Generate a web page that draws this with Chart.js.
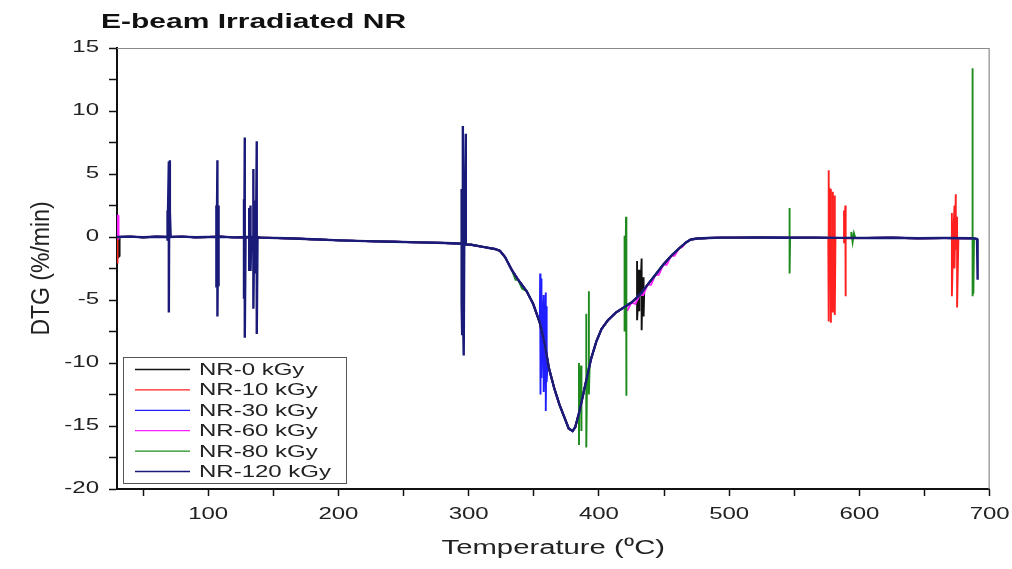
<!DOCTYPE html>
<html><head><meta charset="utf-8">
<script src="https://cdn.jsdelivr.net/npm/chart.js@4.4.0/dist/chart.umd.min.js"></script>
<style>html,body{margin:0;padding:0;background:#fff;}#wrap{width:1012px;height:569px;position:relative;}</style>
</head><body><div id="wrap"><canvas id="c"></canvas></div>
<script>
const chartTitle = 'E-beam Irradiated NR';
const xAxisTitle = 'Temperature (\u2070C)';
const yAxisTitle = 'DTG (%/min)';
const seriesLabels = ['NR-0 kGy','NR-10 kGy','NR-30 kGy','NR-60 kGy','NR-80 kGy','NR-120 kGy'];
const seriesColors = ['#111111','#ff2020','#1f1fff','#ff20ff','#1e8a1e','#1a1a78'];
const xTickValues = [50,100,150,200,250,300,350,400,450,500,550,600,650,700];
const xTickLabels = ['','100','','200','','300','','400','','500','','600','','700'];
const yTickValues = [-20,-17.5,-15,-12.5,-10,-7.5,-5,-2.5,0,2.5,5,7.5,10,12.5,15];
const yTickLabels = ['-20','','-15','','-10','','-5','','0','','5','','10','','15'];

// common DTG trace (temperature, %/min)
const baseTemp = [30,40,50,60,70,80,90,100,110,120,140,160,180,201,221,242,262,282,292,302,312,320,324,328,333,338,344.5,349.5,354.6,358.6,361.6,365.7,369.7,373.8,376.8,379.8,381.8,384.9,387.9,390.9,393.9,398,402,407,413,419,425,431.3,437.3,443.4,449.4,455.5,461.6,466.6,470.6,475.7,483.8,494,504,524,544,564,585,605,625,645,665,686,690];
const baseDTG = [0,0.03,-0.02,0.02,0,0.03,-0.02,0,0.02,-0.03,-0.05,-0.1,-0.18,-0.27,-0.33,-0.38,-0.43,-0.48,-0.52,-0.62,-0.8,-0.95,-1.1,-1.6,-2.6,-3.4,-4.3,-5.3,-6.8,-8.6,-10.4,-12.0,-13.3,-14.4,-15.2,-15.4,-15.1,-13.9,-12.5,-11.1,-9.7,-8.3,-7.3,-6.6,-6.0,-5.6,-5.2,-4.6,-3.8,-3.0,-2.2,-1.5,-0.9,-0.45,-0.2,-0.12,-0.08,-0.05,-0.05,-0.04,-0.06,-0.05,-0.07,-0.08,-0.06,-0.1,-0.08,-0.1,-0.15];

// per-series deviations and spikes [temperature, DTG]
const spikes0 = [[31,-0.1],[31,-1.6],[32,-1.5],[32,0],
  [429.3,-4.8],[429.3,-1.9],[429.3,-6.6],[430.3,-4.7],[430.8,-2.6],[430.8,-5.9],[431.8,-4.5],[432.8,-1.7],[432.8,-7.4],[433.3,-4.4],[434.3,-3.2],[434.3,-6.3],[434.8,-4.2]];
const spikes10 = [[30.2,0],[30.2,-2.1],[30.6,-1.9],[30.6,0],
  [576.1,-0.07],[576.1,4.0],[576.6,5.3],[576.6,-6.7],[577.1,3.9],[577.1,-0.1],[578.1,-0.1],[578.1,3.8],[578.1,-6.8],[578.6,-0.1],[579.6,-0.1],[579.6,3.6],[579.6,-6.0],[580.1,-0.1],[581.1,-0.1],[581.1,3.3],[581.1,-6.2],[581.6,-0.1],
  [588.2,-0.07],[588.2,2.1],[588.2,-0.5],[589.2,2.5],[589.2,-4.7],[589.7,-0.1],
  [671,-0.08],[671,1.9],[671,-4.7],[672,-0.1],[673,2.5],[673,-2.5],[674,3.4],[674,-1.0],[675,1.6],[675,-5.6],[676,-0.1]];
const spikes30 = [[354.6,-6.8],[354.9,-2.9],[354.9,-12.5],[355.4,-6.9],[355.9,-3.3],[355.9,-11.2],[356.6,-7.6],[357.6,-4.6],[357.6,-12.3],[358.4,-8.3],[359.2,-4.4],[359.2,-13.8],[359.9,-5.5],[359.9,-11.5],[360.6,-9.8]];
const spikes60 = [[30.4,0],[30.4,1.7],[30.9,1.7],[30.9,-0.2],[31.3,1.2],[31.3,0],
  [422,-5.8],[428,-5.3],[434,-4.6],[440,-3.8],[446,-3.0],[452,-2.2],[458,-1.5],[464,-0.8]];
const spikes80 = [[336,-3.4],[341,-4.1],
  [384.7,-14.0],[384.7,-10.0],[384.7,-16.5],[385.3,-13.9],[386.3,-10.2],[386.3,-15.4],[386.9,-13.1],
  [390.3,-11.4],[390.3,-6.1],[390.3,-16.7],[390.9,-11.2],[392.3,-10.3],[392.3,-4.3],[392.3,-12.5],[392.9,-10.1],
  [419.7,-5.6],[419.7,0.1],[419.7,-7.5],[420.2,-5.5],[420.8,1.6],[420.8,-12.6],[421.4,-5.4],
  [546.4,-0.05],[546.4,2.3],[546.4,-2.9],[546.8,-0.05],
  [593.8,-0.07],[593.8,0.4],[594.8,-0.4],[595.8,0.3],[596.8,-0.05],
  [686.9,-0.1],[686.9,13.4],[686.9,-4.7],[687.5,-0.3],[687.5,-4.5],[688,-0.1]];
const spikes120 = [[68.8,0],[68.8,2.1],[68.8,-0.3],[69.8,6.0],[69.8,-6.0],[70.6,6.1],[70.6,2.0],[71.2,0],
  [106.3,0],[106.3,2.5],[106.3,-4.0],[107.1,6.1],[107.1,-6.3],[107.7,2.5],[107.7,-3.9],[108.3,0],
  [127.5,0],[127.5,3.0],[127.5,-4.9],[128.1,7.9],[128.1,-8.0],[128.7,0],
  [131.5,0],[131.5,2.3],[131.5,-2.7],[132.5,2.5],[132.5,-2.7],[133.1,0],
  [134.7,0],[134.7,5.4],[134.7,-5.7],[135.3,0],
  [136.5,0],[136.5,2.9],[136.5,-2.9],[137.3,7.6],[137.3,-7.7],[137.9,0],
  [294.6,-0.55],[294.6,3.8],[294.6,-5.2],[295,-7.7],[295.4,3.8],[295.6,8.8],[295.6,-5.2],[296.2,-9.4],[296.6,-0.6],[297.8,8.2],[297.8,-0.6],[298.4,-0.6],
  [690.3,-0.15],[690.3,-3.4],[691,-1.7],[691,-0.2]];
const seriesSpikes = [spikes0, spikes10, spikes30, spikes60, spikes80, spikes120];

const TEXT_STRETCH = 1.5;
const ROTATED_STRETCH = 1.15;
const FONT = '"Liberation Sans", Arial, sans-serif';

function buildSeries(spikes) {
  const pts = baseTemp.map((t, i) => ({x: t, y: baseDTG[i]}));
  spikes.forEach(([t, v]) => pts.push({x: t, y: v}));
  pts.sort((a, b) => a.x - b.x);
  return pts;
}

const stretchPlugin = {
  id: 'stretch',
  beforeInit(chart) {
    const ctx = chart.ctx;
    const orig = ctx.fillText.bind(ctx);
    ctx.fillText = function(text, x, y) {
      const m = ctx.getTransform();
      const p = m.transformPoint(new DOMPoint(x, y));
      const s = Math.abs(m.b) > 1e-6 ? ROTATED_STRETCH : TEXT_STRETCH;
      ctx.save();
      ctx.setTransform(new DOMMatrix().translate(p.x, p.y).scale(s, 1).translate(-p.x, -p.y).multiply(m));
      orig(text, x, y);
      ctx.restore();
    };
  }
};

const decorPlugin = {
  id: 'decor',
  beforeDatasetsDraw(chart) {
    const {ctx, chartArea: a} = chart;
    ctx.save();
    ctx.strokeStyle = '#8a8a8a';
    ctx.lineWidth = 1.2;
    ctx.beginPath();
    ctx.moveTo(a.left, a.top + 0.5);
    ctx.lineTo(a.right - 0.5, a.top + 0.5);
    ctx.lineTo(a.right - 0.5, a.bottom);
    ctx.stroke();
    ctx.restore();
  },
  afterDraw(chart) {
    const {ctx} = chart;
    ctx.save();
    ctx.fillStyle = '#111';
    ctx.font = 'bold 20px ' + FONT;
    ctx.textAlign = 'left';
    ctx.textBaseline = 'alphabetic';
    ctx.fillText(chartTitle, 101, 28);
    const L = {x: 123, y: 357, w: 223, h: 126};
    ctx.fillStyle = '#fff';
    ctx.fillRect(L.x, L.y, L.w, L.h);
    ctx.strokeStyle = '#555';
    ctx.lineWidth = 1;
    ctx.strokeRect(L.x + 0.5, L.y + 0.5, L.w, L.h);
    ctx.font = '16px ' + FONT;
    ctx.textBaseline = 'middle';
    chart.data.datasets.forEach((ds, i) => {
      const y = 369.5 + i * 20.4;
      ctx.strokeStyle = ds.borderColor;
      ctx.lineWidth = 1.3;
      ctx.beginPath();
      ctx.moveTo(135, y);
      ctx.lineTo(190, y);
      ctx.stroke();
      ctx.fillStyle = '#222';
      ctx.fillText(ds.label, 199, y + 1);
    });
    ctx.restore();
  }
};

const datasets = seriesLabels.map((label, i) => ({
  label,
  data: buildSeries(seriesSpikes[i]),
  borderColor: seriesColors[i],
  backgroundColor: seriesColors[i],
  borderWidth: i === 5 ? 2.4 : 1.9,
  pointRadius: 0,
  tension: 0,
  fill: false,
  order: 5 - i
}));

new Chart(document.getElementById('c'), {
  type: 'line',
  data: {datasets},
  plugins: [stretchPlugin, decorPlugin],
  options: {
    responsive: true,
    maintainAspectRatio: false,
    animation: false,
    devicePixelRatio: 1,
    layout: {padding: {top: 48, right: 20, bottom: 0, left: 0}},
    plugins: {legend: {display: false}, tooltip: {enabled: false}, title: {display: false}},
    scales: {
      x: {
        type: 'linear', min: 30, max: 700,
        afterBuildTicks: s => { s.ticks = xTickValues.map(v => ({value: v})); },
        afterFit: s => { s.height = 80; },
        ticks: {autoSkip: false, maxRotation: 0, padding: 9, color: '#222',
          font: {family: FONT, size: 16},
          callback: v => xTickLabels[xTickValues.indexOf(v)]},
        grid: {drawOnChartArea: false, drawTicks: true, tickLength: 7, tickColor: '#111', tickWidth: 1.5},
        border: {display: true, color: '#111', width: 2},
        title: {display: true, text: xAxisTitle, color: '#222', font: {family: FONT, size: 19.5}, padding: {top: 0, bottom: 9}}
      },
      y: {
        type: 'linear', min: -20, max: 15,
        afterBuildTicks: s => { s.ticks = yTickValues.map(v => ({value: v})); },
        afterFit: s => { s.width = 117; },
        ticks: {autoSkip: false, padding: 10, color: '#222',
          font: {family: FONT, size: 16},
          callback: v => yTickLabels[yTickValues.indexOf(v)]},
        grid: {drawOnChartArea: false, drawTicks: true, tickLength: 8, tickColor: '#111', tickWidth: 1.5},
        border: {display: true, color: '#111', width: 2},
        title: {display: true, text: yAxisTitle, color: '#222', font: {family: FONT, size: 23}, padding: {top: 28, bottom: 0}}
      }
    }
  }
});
</script></body></html>
